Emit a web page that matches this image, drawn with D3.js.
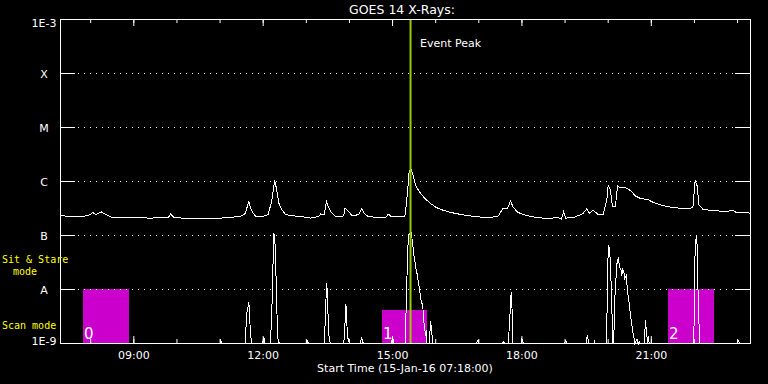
<!DOCTYPE html>
<html>
<head>
<meta charset="utf-8">
<script src="https://cdn.jsdelivr.net/npm/d3@7"></script>
<style>
body { margin: 0; background: #000; }
svg { display: block; font-family: "DejaVu Sans", sans-serif; }
</style>
</head>
<body>
<svg id="chart" width="768" height="384"></svg>
<script>
// GOES 14 long channel (1-8 A), W/m^2
var longTimes = [
	"07:18","07:32","07:46","07:57","08:03","08:07","08:11","08:15","08:21","08:28",
	"08:55","09:23","09:48","09:51","09:55","10:12","10:33","11:01","11:28","11:35",
	"11:40","11:42","11:45","11:50","12:00","12:07","12:12","12:16","12:19","12:22",
	"12:26","12:31","12:38","12:52","13:06","13:17","13:20","13:25","13:28","13:31",
	"13:35","13:41","13:52","13:54","13:57","14:00","14:04","14:13","14:17","14:21",
	"14:26","14:40","14:51","14:54","14:58","15:17","15:19","15:21","15:23","15:26",
	"15:29","15:32","15:39","15:46","15:53","16:00","16:07","16:21","16:35","16:48",
	"17:02","17:16","17:27","17:33","17:40","17:44","17:48","17:54","18:01","18:12",
	"18:33","18:51","18:55","18:58","19:01","19:14","19:25","19:30","19:34","19:39",
	"19:45","19:53","19:58","20:00","20:03","20:06","20:10","20:13","20:17","20:24",
	"20:31","20:38","20:45","20:56","21:01","21:12","21:26","21:40","21:54","21:58",
	"22:01","22:04","22:06","22:12","22:25","22:43","22:54","22:58","23:18"];
var longFlux = [
	2.34e-7,2.25e-7,2.25e-7,2.34e-7,2.67e-7,2.45e-7,2.6e-7,2.72e-7,2.45e-7,2.2e-7,
	2.15e-7,2.1e-7,2.15e-7,2.5e-7,2.2e-7,2.06e-7,2.1e-7,2.1e-7,2.25e-7,2.55e-7,
	4.26e-7,3.44e-7,2.67e-7,2.25e-7,2.25e-7,2.45e-7,4.45e-7,1.07e-6,6.8e-7,3.9e-7,
	3.0e-7,2.45e-7,2.34e-7,2.25e-7,2.1e-7,2.25e-7,2.5e-7,2.45e-7,4.26e-7,3.3e-7,
	2.67e-7,2.25e-7,2.3e-7,3.25e-7,2.9e-7,2.67e-7,2.3e-7,2.45e-7,3.1e-7,2.55e-7,
	2.25e-7,2.15e-7,2.2e-7,2.5e-7,2.25e-7,2.25e-7,3.59e-7,6.8e-7,1.53e-6,1.67e-6,
	1.24e-6,8.4e-7,6.0e-7,4.7e-7,3.9e-7,3.36e-7,3.03e-7,2.67e-7,2.45e-7,2.3e-7,
	2.2e-7,2.15e-7,2.3e-7,3.1e-7,3.16e-7,4.4e-7,3.3e-7,2.72e-7,2.45e-7,2.25e-7,
	2.06e-7,2.15e-7,2.0e-7,2.78e-7,2.1e-7,2.2e-7,2.55e-7,3.1e-7,2.6e-7,2.97e-7,
	2.5e-7,2.45e-7,4.45e-7,8.4e-7,7.0e-7,3.4e-7,3.4e-7,8.4e-7,7.6e-7,7.75e-7,
	6.8e-7,5.4e-7,4.84e-7,4.6e-7,4.2e-7,3.7e-7,3.36e-7,3.2e-7,3.1e-7,3.44e-7,
	1.05e-6,8.1e-7,3.75e-7,3.03e-7,2.9e-7,2.78e-7,2.9e-7,2.67e-7,2.6e-7];

// short channel (0.5-4 A); 5e-10 = below the bottom of the plot
var shortTimes = [
	"07:18","11:00","11:01","11:03","11:35","11:37","11:40","11:41","11:42","11:44",
	"11:59","12:01","12:02","12:10","12:12","12:13","12:15","12:16","12:17","12:18",
	"12:20","12:21","12:23","12:59","13:01","13:03","13:25","13:27","13:28","13:29",
	"13:31","13:32","13:34","13:52","13:53","13:55","13:56","13:57","13:59","14:00",
	"14:15","14:17","14:18","14:20","14:58","15:00","15:02","15:18","15:19","15:21",
	"15:22","15:24","15:26","15:28","15:29","15:30","15:32","15:33","15:35","15:36",
	"15:37","15:39","15:40","15:42","15:43","15:44","15:46","15:47","15:48","15:51",
	"15:53","15:55","15:56","16:56","16:59","17:00","17:32","17:34","17:36","17:41",
	"17:43","17:45","17:46","17:47","17:59","18:00","18:02","18:59","19:01","19:02",
	"19:29","19:31","19:33","19:40","19:41","19:42","19:57","19:59","20:00","20:02",
	"20:03","20:05","20:06","20:07","20:08","20:09","20:12","20:14","20:15","20:16",
	"20:18","20:19","20:20","20:22","20:23","20:25","20:26","20:27","20:29","20:31",
	"20:34","20:36","20:37","20:40","20:42","20:43","20:44","20:50","20:52","20:53",
	"20:55","20:56","20:57","21:59","22:00","22:01","22:03","22:04","22:05","22:07",
	"22:08","22:59","23:01","23:03","23:18"];
var shortFlux = [
	5e-10,5e-10,1.14e-9,5e-10,5e-10,3.6e-9,5.74e-9,4.1e-9,1.67e-9,5e-10,
	5e-10,1.29e-9,5e-10,5e-10,3.5e-9,1.53e-8,1.09e-7,9.6e-8,4.6e-8,1.5e-8,
	1.4e-9,1.1e-9,5e-10,5e-10,1.14e-9,5e-10,5e-10,4.45e-9,1.29e-8,1.04e-8,
	1.74e-9,1.14e-9,5e-10,5e-10,1.35e-9,5.28e-9,4.26e-9,1.35e-9,1.14e-9,5e-10,
	5e-10,1.29e-9,1.09e-9,5e-10,5e-10,1.29e-9,5e-10,5e-10,6.26e-9,4.3e-8,
	1.0e-7,1.1e-7,1.12e-7,7.1e-8,5.3e-8,3.9e-8,2.8e-8,2.25e-8,1.74e-8,1.24e-8,
	1.14e-8,7.1e-9,6.0e-9,5.0e-9,3.2e-9,2.2e-9,1.4e-9,1.8e-9,5e-10,5e-10,
	2.6e-9,1.4e-9,5e-10,5e-10,1.14e-9,5e-10,5e-10,1.09e-9,5e-10,5e-10,
	2.7e-9,8.8e-9,6.3e-9,5e-10,5e-10,1.24e-9,5e-10,5e-10,1.14e-9,5e-10,
	5e-10,1.41e-9,5e-10,5e-10,1.09e-9,5e-10,5e-10,6.8e-9,6.5e-8,6.0e-8,
	2.9e-8,6.3e-9,1.1e-9,5e-10,1.5e-9,6.0e-9,2.9e-8,3.9e-8,3.16e-8,2.55e-8,
	2.25e-8,1.82e-8,2.45e-8,2.06e-8,1.6e-8,1.82e-8,1.29e-8,8.8e-9,5.74e-9,3.4e-9,
	1.74e-9,1.24e-9,5e-10,1.2e-9,5e-10,1.09e-9,5e-10,5e-10,2.67e-9,1.74e-9,
	5e-10,1.35e-9,5e-10,5e-10,6.3e-9,6.5e-8,1.04e-7,5.3e-8,9.6e-9,1.14e-9,
	5e-10,5e-10,1.14e-9,5e-10,5e-10];

// axis ticks and labels
var yTicks = [1e-9, 1e-8, 1e-7, 1e-6, 1e-5, 1e-4, 1e-3];
var yTickLabels = ["1E-9", "A", "B", "C", "M", "X", "1E-3"];
var gridLevels = [1e-8, 1e-7, 1e-6, 1e-5, 1e-4];
var xTickLabels = ["09:00", "12:00", "15:00", "18:00", "21:00"];
var startTime = "07:18";
var endTime = "23:18";

// observation boxes (scan / sit & stare)
var boxNames = ["0", "1", "2"];
var boxStart = ["07:50", "14:46", "21:24"];
var boxEnd = ["08:54", "15:49", "22:28"];
var boxTop = [1e-8, 4.1e-9, 1e-8];

var eventPeak = "15:25";
var modeLabels = ["Sit & Stare", "mode", "Scan mode"];

var parseTime = d3.timeParse("%H:%M");
var svg = d3.select("#chart");

var x = d3.scaleTime()
	.domain([parseTime(startTime), parseTime(endTime)])
	.range([60, 750]);
var y = d3.scaleLog()
	.domain([1e-9, 1e-3])
	.range([343, 19])
	.clamp(true);

svg.append("rect").attr("width", 768).attr("height", 384).attr("fill", "#000");

// magenta boxes first, curves go over them
svg.selectAll(".obs").data(boxNames)
	.enter().append("rect")
	.attr("class", "obs")
	.attr("x", function (d, i) { return x(parseTime(boxStart[i])); })
	.attr("y", function (d, i) { return y(boxTop[i]); })
	.attr("width", function (d, i) { return x(parseTime(boxEnd[i])) - x(parseTime(boxStart[i])); })
	.attr("height", function (d, i) { return y(1e-9) - y(boxTop[i]); })
	.attr("fill", "#cc00cc")
	.attr("shape-rendering", "crispEdges");
svg.selectAll(".obsName").data(boxNames)
	.enter().append("text")
	.attr("class", "obsName")
	.attr("x", function (d, i) { return x(parseTime(boxStart[i])) + 1; })
	.attr("y", 338.5)
	.attr("fill", "#fff")
	.attr("font-size", "15px")
	.text(function (d) { return d; });

// dotted grid
svg.selectAll(".grid").data(gridLevels)
	.enter().append("line")
	.attr("class", "grid")
	.attr("x1", 78).attr("x2", 735)
	.attr("y1", function (d) { return y(d) + 0.5; })
	.attr("y2", function (d) { return y(d) + 0.5; })
	.attr("stroke", "#fff")
	.attr("stroke-dasharray", "1,5")
	.attr("shape-rendering", "crispEdges");

// curves
var line = d3.line()
	.x(function (d) { return x(d[0]) + 0.5; })
	.y(function (d) { return y(d[1]) + 0.5; });
var longData = longTimes.map(function (t, i) { return [parseTime(t), longFlux[i]]; });
var shortData = shortTimes.map(function (t, i) { return [parseTime(t), shortFlux[i]]; });
[longData, shortData].forEach(function (series) {
	svg.append("path")
		.datum(series)
		.attr("d", line)
		.attr("fill", "none")
		.attr("stroke", "#fff")
		.attr("stroke-width", 1)
		.attr("shape-rendering", "crispEdges");
});

// event peak marker
svg.append("line")
	.attr("x1", x(parseTime(eventPeak)) + 0.5)
	.attr("x2", x(parseTime(eventPeak)) + 0.5)
	.attr("y1", 19.5).attr("y2", 343.5)
	.attr("stroke", "#99cc00")
	.attr("stroke-width", 2);
svg.append("text")
	.attr("x", x(parseTime(eventPeak)) + 10)
	.attr("y", 46.5)
	.attr("fill", "#fff")
	.attr("font-size", "11px")
	.text("Event Peak");

// axes
var majorTimes = xTickLabels.map(parseTime);
function styleAxis(g) {
	g.select(".domain").remove();
	g.selectAll("line").attr("stroke", "#fff");
	g.selectAll("text").attr("fill", "#fff").attr("font-size", "11px")
		.attr("font-family", "DejaVu Sans, sans-serif");
}
svg.append("g").attr("transform", "translate(0,343)")
	.call(d3.axisBottom(x).ticks(d3.timeHour.every(1)).tickSize(-4).tickFormat(""))
	.call(styleAxis);
svg.append("g").attr("transform", "translate(0,343)")
	.call(d3.axisBottom(x).tickValues(majorTimes).tickSize(-7).tickPadding(8)
		.tickFormat(function (d, i) { return xTickLabels[i]; }))
	.call(styleAxis);
svg.append("g").attr("transform", "translate(0,19)")
	.call(d3.axisTop(x).ticks(d3.timeHour.every(1)).tickSize(-4).tickFormat(""))
	.call(styleAxis);
svg.append("g").attr("transform", "translate(0,19)")
	.call(d3.axisTop(x).tickValues(majorTimes).tickSize(-7).tickFormat(""))
	.call(styleAxis);

var leftAxis = svg.append("g").attr("transform", "translate(60,0)")
	.call(d3.axisLeft(y).tickValues(yTicks).tickSize(-15)
		.tickFormat(function (d, i) { return yTickLabels[i]; }))
	.call(styleAxis);
leftAxis.selectAll("text")
	.attr("x", -16)
	.attr("text-anchor", "middle")
	.attr("dy", function (d) {
		if (d == 1e-3) return "7px";
		if (d == 1e-9) return "1px";
		return "4.5px";
	});
svg.append("g").attr("transform", "translate(750,0)")
	.call(d3.axisRight(y).tickValues(yTicks).tickSize(-15).tickFormat(""))
	.call(styleAxis);

// frame
svg.append("rect")
	.attr("x", 60.5).attr("y", 19.5)
	.attr("width", 690).attr("height", 324)
	.attr("fill", "none")
	.attr("stroke", "#fff")
	.attr("shape-rendering", "crispEdges");

// titles
svg.append("text")
	.attr("x", 402).attr("y", 14)
	.attr("text-anchor", "middle")
	.attr("fill", "#fff").attr("font-size", "12.5px")
	.text("GOES 14 X-Rays:");
svg.append("text")
	.attr("x", 405).attr("y", 372)
	.attr("text-anchor", "middle")
	.attr("fill", "#fff").attr("font-size", "11px")
	.text("Start Time (15-Jan-16 " + startTime + ":00)");

// mode labels on the left
var mono = "DejaVu Sans Mono, monospace";
svg.append("text").attr("x", 2).attr("y", 263)
	.attr("font-family", mono)
	.attr("fill", "#ffff00").attr("font-size", "10px").text(modeLabels[0]);
svg.append("text").attr("x", 13).attr("y", 274.5)
	.attr("font-family", mono)
	.attr("fill", "#ffff00").attr("font-size", "10px").text(modeLabels[1]);
svg.append("text").attr("x", 2).attr("y", 328.5)
	.attr("font-family", mono)
	.attr("fill", "#ffff00").attr("font-size", "10px").text(modeLabels[2]);
</script>
</body>
</html>
